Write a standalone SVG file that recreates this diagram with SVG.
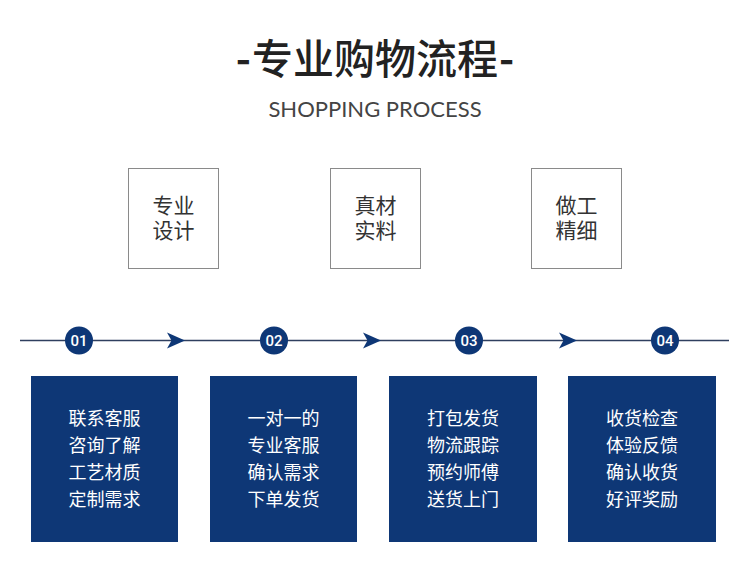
<svg xmlns="http://www.w3.org/2000/svg" width="750" height="584" viewBox="0 0 750 584">
<style>
.title{font-family:"Noto Sans CJK SC","Noto Sans",sans-serif;font-size:41px;font-weight:500;fill:#222;text-anchor:middle}
.sub{font-family:Lato,"Open Sans",sans-serif;font-size:22px;fill:#444;text-anchor:middle}
.tbox{fill:#fff;stroke:#8a8a8a;stroke-width:1}
.tt{font-family:"Noto Sans CJK SC",sans-serif;font-size:21px;fill:#333;text-anchor:middle}
.bbox{fill:#0e3776}
.bt{font-family:"Noto Sans CJK SC",sans-serif;font-size:18px;fill:#fff;text-anchor:middle}
.num{fill:#0e3776}
.nt{font-family:Roboto,"Liberation Sans",sans-serif;font-size:15px;font-weight:500;fill:#fff;text-anchor:middle}
.arr{fill:#0e3776}
</style>
<rect width="750" height="584" fill="#fff"/>
<g id="title">
<text class="title" x="375" y="74"><tspan font-weight="700">-</tspan><tspan dx="1">专业购物流程</tspan><tspan dx="1" font-weight="700">-</tspan></text>
<text class="sub" x="375" y="117">SHOPPING PROCESS</text>
</g>
<g id="feat1"><rect class="tbox" x="128.5" y="168.5" width="90" height="100"/><text class="tt" x="173.5" y="213">专业</text><text class="tt" x="173.5" y="238">设计</text></g>
<g id="feat2"><rect class="tbox" x="330.5" y="168.5" width="90" height="100"/><text class="tt" x="375.5" y="213">真材</text><text class="tt" x="375.5" y="238">实料</text></g>
<g id="feat3"><rect class="tbox" x="531.5" y="168.5" width="90" height="100"/><text class="tt" x="576.5" y="213">做工</text><text class="tt" x="576.5" y="238">精细</text></g>
<g id="connectors">
<line x1="20" y1="340.5" x2="729" y2="340.5" stroke="#2f3f5f" stroke-width="1.3"/>
<path class="arr" d="M185,340.5 L167,332.5 L171.5,340.5 L167,348.5 Z"/>
<path class="arr" d="M381,340.5 L363,332.5 L367.5,340.5 L363,348.5 Z"/>
<path class="arr" d="M577,340.5 L559,332.5 L563.5,340.5 L559,348.5 Z"/>
</g>
<g id="n01"><circle class="num" cx="79" cy="340.5" r="14"/><text class="nt" x="79" y="346">01</text></g>
<g id="n02"><circle class="num" cx="274" cy="340.5" r="14"/><text class="nt" x="274" y="346">02</text></g>
<g id="n03"><circle class="num" cx="469" cy="340.5" r="14"/><text class="nt" x="469" y="346">03</text></g>
<g id="n04"><circle class="num" cx="665" cy="340.5" r="14"/><text class="nt" x="665" y="346">04</text></g>
<g id="step1"><rect class="bbox" x="31" y="376" width="147" height="166"/>
<text class="bt" x="104.5" y="425">联系客服</text><text class="bt" x="104.5" y="452">咨询了解</text><text class="bt" x="104.5" y="479">工艺材质</text><text class="bt" x="104.5" y="506">定制需求</text></g>
<g id="step2"><rect class="bbox" x="210" y="376" width="147" height="166"/>
<text class="bt" x="283.5" y="425">一对一的</text><text class="bt" x="283.5" y="452">专业客服</text><text class="bt" x="283.5" y="479">确认需求</text><text class="bt" x="283.5" y="506">下单发货</text></g>
<g id="step3"><rect class="bbox" x="389" y="376" width="148" height="166"/>
<text class="bt" x="463" y="425">打包发货</text><text class="bt" x="463" y="452">物流跟踪</text><text class="bt" x="463" y="479">预约师傅</text><text class="bt" x="463" y="506">送货上门</text></g>
<g id="step4"><rect class="bbox" x="568" y="376" width="148" height="166"/>
<text class="bt" x="642" y="425">收货检查</text><text class="bt" x="642" y="452">体验反馈</text><text class="bt" x="642" y="479">确认收货</text><text class="bt" x="642" y="506">好评奖励</text></g>
</svg>
